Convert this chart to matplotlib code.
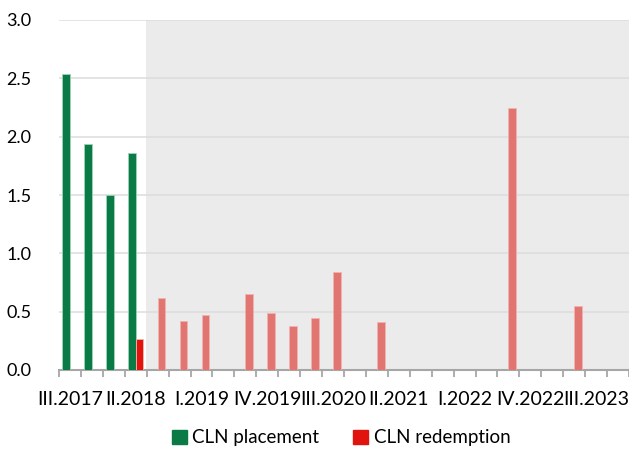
import numpy as np
import matplotlib
matplotlib.use("Agg")
import matplotlib.pyplot as plt
from matplotlib.patches import Patch

plt.rcParams['font.family'] = ['Lato', 'DejaVu Sans']

# Datos (mil millones), trimestres III.2017 .. IV.2023
quarters = ['III.2017', 'IV.2017', 'I.2018', 'II.2018', 'III.2018', 'IV.2018',
            'I.2019', 'II.2019', 'III.2019', 'IV.2019', 'I.2020', 'II.2020',
            'III.2020', 'IV.2020', 'I.2021', 'II.2021', 'III.2021', 'IV.2021',
            'I.2022', 'II.2022', 'III.2022', 'IV.2022', 'I.2023', 'II.2023',
            'III.2023', 'IV.2023']
placement = [2.54, 1.94, 1.50, 1.86, 0, 0, 0, 0, 0, 0, 0, 0, 0,
             0, 0, 0, 0, 0, 0, 0, 0, 0, 0, 0, 0, 0]
redemption = [0, 0, 0, 0.27, 0.62, 0.42, 0.47, 0, 0.65, 0.49, 0.38, 0.45, 0.84,
              0, 0.41, 0, 0, 0, 0, 0, 2.25, 0, 0, 0.55, 0, 0]
last_actual = 'II.2018'   # a partir de aqui: amortizaciones programadas

green = '#0a7a46'
red = '#e0140c'
pink = '#e07571'

n = len(quarters)
x = np.arange(n)
cut = quarters.index(last_actual)
red_colors = [red if i <= cut else pink for i in range(n)]

fig = plt.figure(figsize=(6.29, 4.5), dpi=100)
ax = fig.add_axes([59 / 629, 80 / 450, 1 - 59 / 629, 350 / 450])

# zona sombreada (previsión)
ax.axvspan(cut + 0.45, n, color='#ebebeb', zorder=0, lw=0)

w = 0.35
ax.bar(x - w / 2, placement, width=w, color=green, edgecolor='#9fd3b5',
       linewidth=0.6, zorder=3)
ax.bar(x + w / 2, redemption, width=w, color=red_colors, edgecolor='#f2b3b0',
       linewidth=0.6, zorder=3)

ax.set_ylim(0, 3.0)
ax.set_yticks(np.arange(0, 3.01, 0.5))
ax.set_yticklabels([f'{v:.1f}' for v in np.arange(0, 3.01, 0.5)], fontsize=13)
ax.yaxis.grid(True, color='#dcdcdc', linewidth=1.1, zorder=1)
ax.set_axisbelow(True)
ax.tick_params(axis='y', length=0, pad=20)

ax.set_xlim(-0.5, 25.4)
ax.set_xticks(np.arange(-0.5, n, 1.0))
ax.set_xticklabels([])
ax.tick_params(axis='x', which='major', length=5, color='#a0a0a0', width=1.2)
ax.set_xticks(x[::3], minor=True)
ax.set_xticklabels(quarters[::3], minor=True, fontsize=14)
ax.tick_params(axis='x', which='minor', length=0, pad=15)

for s in ['top', 'right', 'left']:
    ax.spines[s].set_visible(False)
ax.spines['bottom'].set_color('#a6a6a6')
ax.spines['bottom'].set_linewidth(1.5)

handles = [Patch(color=green, label='CLN placement'),
           Patch(color=red, label='CLN redemption')]
fig.legend(handles=handles, loc='center', bbox_to_anchor=(341 / 629, 12 / 450),
           ncol=2, frameon=False, fontsize=13.5, handlelength=0.8,
           handleheight=0.8, handletextpad=0.3, columnspacing=1.8)

fig.savefig('out.png', dpi=100)
plt.close()
